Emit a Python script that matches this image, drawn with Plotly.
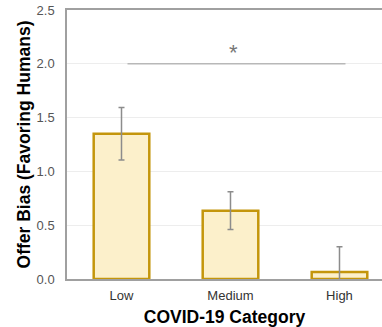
import plotly.graph_objects as go

categories = ["Low", "Medium", "High"]
values = [1.35, 0.635, 0.065]
errors = [0.245, 0.175, 0.235]
sig_y = 2.0
sig_label = "*"

fig = go.Figure()
fig.add_trace(go.Bar(
    x=[0, 1, 2], y=values, width=0.51,
    marker=dict(color="#FCF0CB", line=dict(color="#C4960C", width=2.5)),
    error_y=dict(type="data", array=errors, visible=True, color="#8C8C8C", thickness=1.5, width=3),
))
fig.add_trace(go.Scatter(
    x=[0.055, 2.055], y=[sig_y, sig_y], mode="lines",
    line=dict(color="#B8B8B8", width=1.5), hoverinfo="skip",
))
fig.add_annotation(x=1.03, y=sig_y, text=sig_label, showarrow=False, yshift=11,
                   font=dict(size=22, color="#777777", family="Liberation Sans"))

fig.update_layout(
    width=382, height=327, showlegend=False,
    margin=dict(l=67, r=0, t=10, b=48),
    plot_bgcolor="white", paper_bgcolor="white",
    font=dict(family="Liberation Sans", color="#333333"),
    bargap=0.5,
)
fig.update_xaxes(
    range=[-0.5, 2.39], tickvals=[0, 1, 2], ticktext=categories,
    showline=True, linecolor="#A0A0A0", linewidth=1.5, mirror=True, showgrid=False,
    ticks="", tickfont=dict(size=13, color="#333333"), ticklabelstandoff=4,
    title=dict(text="<b>COVID-19 Category</b>", font=dict(size=17.5, color="#000000"), standoff=10),
    zeroline=False,
)
fig.update_yaxes(
    range=[0, 2.5], tickvals=[0, 0.5, 1, 1.5, 2, 2.5],
    ticktext=["0.0", "0.5", "1.0", "1.5", "2.0", "2.5"],
    showline=True, linecolor="#A0A0A0", linewidth=1.5, mirror=False,
    showgrid=True, gridcolor="#EDEDED", gridwidth=1,
    tickfont=dict(size=13, color="#555555"), ticks="", ticklabelstandoff=8,
    title=dict(text="<b>Offer Bias (Favoring Humans)</b>", font=dict(size=17.5, color="#000000"), standoff=1),
    zeroline=False,
)
fig.write_html("out.html")
